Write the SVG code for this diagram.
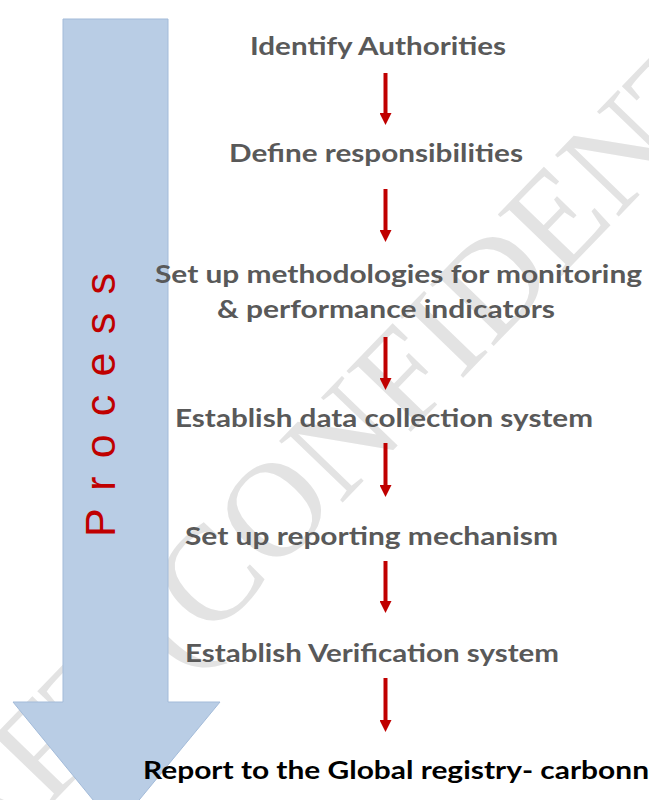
<svg xmlns="http://www.w3.org/2000/svg" width="649" height="800" viewBox="0 0 649 800">
  <style>
    .step { font-family: Lato, "Open Sans", "Liberation Sans", sans-serif; font-weight: 700; font-size: 25.5px; fill: #595959; }
    .final { fill: #000000; }
    .flow { stroke: #c00000; stroke-width: 4; fill: none; }
    .band { fill: #b9cde5; stroke: #a3bbd9; stroke-width: 1; }
    .band-label { font-family: "Liberation Sans", Arial, sans-serif; font-size: 43px; fill: #c00000; }
    .mark { font-family: "Liberation Serif", "Times New Roman", serif; font-size: 135px; fill: #e3e3e3; }
  </style>
  <defs>
    <marker id="head" viewBox="0 0 12 12" markerWidth="12" markerHeight="12" markerUnits="userSpaceOnUse" refX="0" refY="6" orient="auto">
      <path d="M0,0 L12,6 L0,12 Z" fill="#c00000"/>
    </marker>
  </defs>

  <rect width="649" height="800" fill="#ffffff"/>

  <!-- diagonal watermark -->
  <g id="watermark">
    <text class="mark" transform="translate(-150.8,1013.4) rotate(-46)">DRAFT (CONFIDENTIAL)</text>
  </g>

  <!-- big process band arrow -->
  <g id="process">
    <path class="band" d="M63,19 H168 V702 H220 L116,828 L13,702 H63 Z"/>
    <text class="band-label" transform="translate(115,537) rotate(-90)" textLength="264" lengthAdjust="spacing">P r o c e s s</text>
  </g>

  <!-- steps -->
  <g id="step1"><text class="step" x="250" y="55" textLength="256" lengthAdjust="spacingAndGlyphs">Identify Authorities</text></g>
  <g id="step2"><text class="step" x="229" y="162" textLength="294" lengthAdjust="spacingAndGlyphs">Define responsibilities</text></g>
  <g id="step3">
    <text class="step" x="155" y="283" textLength="487" lengthAdjust="spacingAndGlyphs">Set up methodologies for monitoring</text>
    <text class="step" x="217" y="318" textLength="338" lengthAdjust="spacingAndGlyphs">&amp; performance indicators</text>
  </g>
  <g id="step4"><text class="step" x="175" y="427" textLength="418" lengthAdjust="spacingAndGlyphs">Establish data collection system</text></g>
  <g id="step5"><text class="step" x="185" y="545" textLength="373" lengthAdjust="spacingAndGlyphs">Set up reporting mechanism</text></g>
  <g id="step6"><text class="step" x="185" y="662" textLength="374" lengthAdjust="spacingAndGlyphs">Establish Verification system</text></g>
  <g id="step7"><text class="step final" x="143" y="779" textLength="506" lengthAdjust="spacingAndGlyphs">Report to the Global registry- carbonn</text></g>

  <!-- connectors -->
  <g id="connectors">
    <line class="flow" x1="385.5" y1="73" x2="385.5" y2="113" marker-end="url(#head)"/>
    <line class="flow" x1="385.5" y1="189" x2="385.5" y2="230" marker-end="url(#head)"/>
    <line class="flow" x1="385.5" y1="337" x2="385.5" y2="378" marker-end="url(#head)"/>
    <line class="flow" x1="385.5" y1="443" x2="385.5" y2="485" marker-end="url(#head)"/>
    <line class="flow" x1="385.5" y1="561" x2="385.5" y2="601" marker-end="url(#head)"/>
    <line class="flow" x1="385.5" y1="678" x2="385.5" y2="720" marker-end="url(#head)"/>
  </g>
</svg>
